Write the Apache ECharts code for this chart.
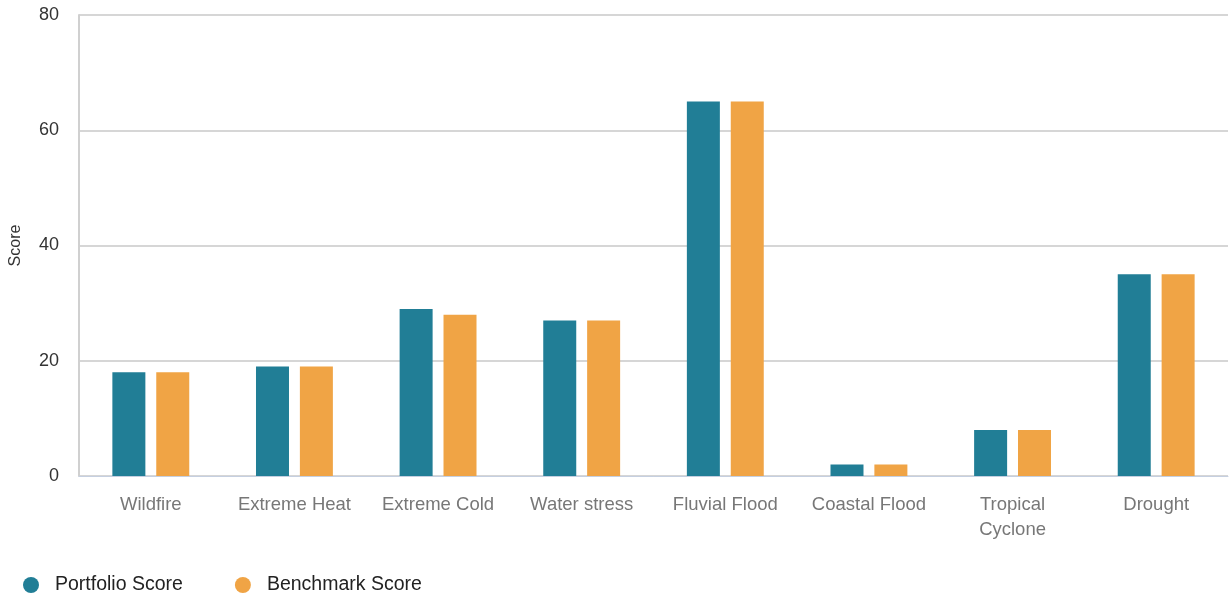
<!DOCTYPE html>
<html>
<head>
<meta charset="utf-8">
<script src="https://cdn.jsdelivr.net/npm/echarts@6/dist/echarts.min.js"></script>
<style>
html,body{margin:0;padding:0;background:#fff;}
#chart{width:1229px;height:593px;}
</style>
</head>
<body>
<div id="chart"></div>
<script>
const categories = ['Wildfire','Extreme Heat','Extreme Cold','Water stress','Fluvial Flood','Coastal Flood','Tropical Cyclone','Drought'];
const portfolioScore = [18, 19, 29, 27, 65, 2, 8, 35];
const benchmarkScore = [18, 19, 28, 27, 65, 2, 8, 35];
const yTicks = [0, 20, 40, 60, 80];

const chart = echarts.init(document.getElementById('chart'));
chart.setOption({
  animation: false,
  textStyle: {fontFamily: 'Liberation Sans, Arial, sans-serif'},
  grid: {left: 79, right: 1, top: 15, bottom: 117, containLabel: false},
  legend: {
    left: 18, top: 570, icon: 'circle', itemWidth: 16, itemHeight: 16, itemGap: 52,
    textStyle: {fontSize: 19.5, color: '#222', padding: [0,0,0,11]},
    data: ['Portfolio Score','Benchmark Score']
  },
  xAxis: {
    type: 'category', data: categories,
    axisLine: {show: true, lineStyle: {color: '#c5cfe0', width: 1}},
    axisTick: {show: false},
    axisLabel: {interval: 0, hideOverlap: false, fontSize: 18.5, color: '#777', margin: 16, lineHeight: 25,
      formatter: v => v === 'Tropical Cyclone' ? 'Tropical\nCyclone' : v}
  },
  yAxis: {
    type: 'value', min: yTicks[0], max: yTicks[yTicks.length-1], interval: 20,
    name: 'Score', nameLocation: 'middle', nameGap: 55, nameRotate: 90,
    nameTextStyle: {fontSize: 16, color: '#333'},
    axisLine: {show: true, lineStyle: {color: '#d0d0d0', width: 2}},
    axisTick: {show: false},
    axisLabel: {fontSize: 18, color: '#333', margin: 20},
    splitLine: {lineStyle: {color: '#d6d6d6', width: 2}}
  },
  series: [
    {name: 'Portfolio Score', type: 'bar', data: portfolioScore, barWidth: 33, barGap: '33%',
     itemStyle: {color: '#217E96'}},
    {name: 'Benchmark Score', type: 'bar', data: benchmarkScore, barWidth: 33,
     itemStyle: {color: '#F0A445'}}
  ]
});
</script>
</body>
</html>
